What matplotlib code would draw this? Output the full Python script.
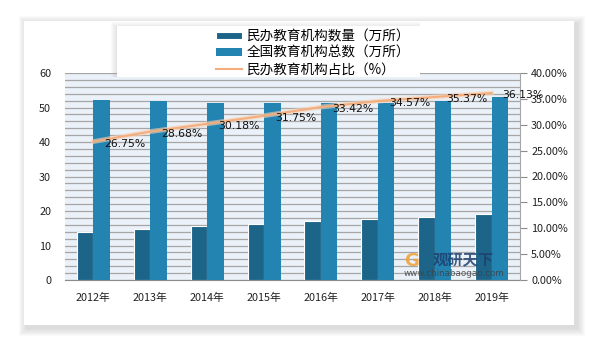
import numpy as np
import matplotlib
matplotlib.use("Agg")
import matplotlib.pyplot as plt
from matplotlib.patches import Rectangle
from matplotlib.ticker import MultipleLocator, FuncFormatter

plt.rcParams['font.family'] = ['Noto Sans CJK SC', 'DejaVu Sans']

years = ['2012年', '2013年', '2014年', '2015年', '2016年', '2017年', '2018年', '2019年']
private_cnt = [13.99, 14.86, 15.52, 16.27, 17.10, 17.76, 18.35, 19.15]
total_cnt = [52.3, 51.8, 51.4, 51.2, 51.2, 51.4, 51.9, 53.0]
share = [26.75, 28.68, 30.18, 31.75, 33.42, 34.57, 35.37, 36.13]

W, H = 603, 341
fig = plt.figure(figsize=(W / 100, H / 100), dpi=100)

def fig_rect(x0, y0, x1, y1, **kw):
    # rectangle in pixel coords (origin top-left)
    r = Rectangle((x0 / W, 1 - y1 / H), (x1 - x0) / W, (y1 - y0) / H,
                  transform=fig.transFigure, **kw)
    fig.add_artist(r)
    return r

# panel shadow + white panel
for i in range(8, 0, -1):
    fig_rect(24 - i + 3, 21 - i + 3, 574 + i + 3, 325 + i + 3,
             facecolor='#808080', edgecolor='none', alpha=0.035, zorder=-3)
fig_rect(24, 21, 574, 325, facecolor='white', edgecolor='none', zorder=-2)

ax = fig.add_axes([65 / W, 1 - 280 / H, (520 - 65) / W, (280 - 73) / H])
ax.set_facecolor('#EBF1F8')
x = np.arange(len(years))
bw = 0.29
ax.bar(x - bw / 2, private_cnt, bw, color='#1C6589', edgecolor='white',
       linewidth=0.8, zorder=3, label='民办教育机构数量（万所）')
ax.bar(x + bw / 2, total_cnt, bw, color='#2383B1', edgecolor='none',
       zorder=3, label='全国教育机构总数（万所）')
ax.set_xlim(-0.5, len(years) - 0.5)
ax.set_ylim(0, 60)
ax.yaxis.set_major_locator(MultipleLocator(10))
ax.yaxis.set_minor_locator(MultipleLocator(2))
ax.grid(axis='y', which='both', color='#A6A6A6', linewidth=0.9, zorder=1)
ax.set_axisbelow(True)
ax.set_xticks(x)
ax.set_xticklabels(years)
ax.tick_params(axis='both', which='both', length=0, labelsize=7.8, colors='#222222')
ax.tick_params(axis='y', pad=10)
ax.tick_params(axis='x', pad=9)
for s in ['top', 'left', 'right']:
    ax.spines[s].set_visible(False)
ax.spines['bottom'].set_color('#8C8C8C')

ax2 = ax.twinx()
ax2.plot(x, share, color='#F8D2B4', linewidth=3.5, alpha=0.6, zorder=4)
ax2.plot(x, share, color='#F4AE7E', linewidth=1.5, zorder=5,
         label='民办教育机构占比（%）')
ax2.set_ylim(0, 40)
ax2.yaxis.set_major_locator(MultipleLocator(5))
ax2.yaxis.set_major_formatter(FuncFormatter(lambda v, p: f'{v:.2f}%'))
ax2.tick_params(axis='y', length=5, color='#8C8C8C', labelsize=7.8,
                labelcolor='#222222', pad=3)
for s in ['top', 'left', 'bottom']:
    ax2.spines[s].set_visible(False)
ax2.spines['right'].set_color('#A6A6A6')
for xi, v in zip(x, share):
    ax2.annotate(f'{v:.2f}%', (xi, v), xytext=(8, -1.5), textcoords='offset points',
                 ha='left', va='center', fontsize=7.8, color='#111111',
                 family='DejaVu Sans', zorder=6)

# watermark
fig.text(433 / W, 1 - 259 / H, '观研天下', fontsize=11, fontweight='bold',
         color='#1F3F6E', alpha=0.85, ha='left', va='center')
fig.text(454 / W, 1 - 273 / H, 'www.chinabaogao.com', fontsize=6.3,
         color='#404040', alpha=0.85, ha='center', va='center',
         family='DejaVu Sans')
fig.text(412 / W, 1 - 261 / H, 'G', fontsize=13, fontweight='bold',
         color='#F0A030', alpha=0.85, ha='center', va='center',
         family='DejaVu Sans')

# legend box with shadow
for i in range(6, 0, -1):
    fig_rect(117 - i, 26 - i + 2, 420, 77, facecolor='#909090',
             edgecolor='none', alpha=0.04, zorder=6)
fig_rect(117, 26, 420, 77, facecolor='white', edgecolor='none', zorder=7)
h1, l1 = ax.get_legend_handles_labels()
h2, l2 = ax2.get_legend_handles_labels()
leg = fig.legend(h1 + h2, l1 + l2, loc='upper left',
                 bbox_to_anchor=(204 / W, 1 - 17 / H), frameon=False,
                 fontsize=9.8, handlelength=1.9, handleheight=0.5,
                 labelspacing=0.2, handletextpad=0.3)
leg.set_zorder(8)

fig.savefig('out.png', dpi=100)
